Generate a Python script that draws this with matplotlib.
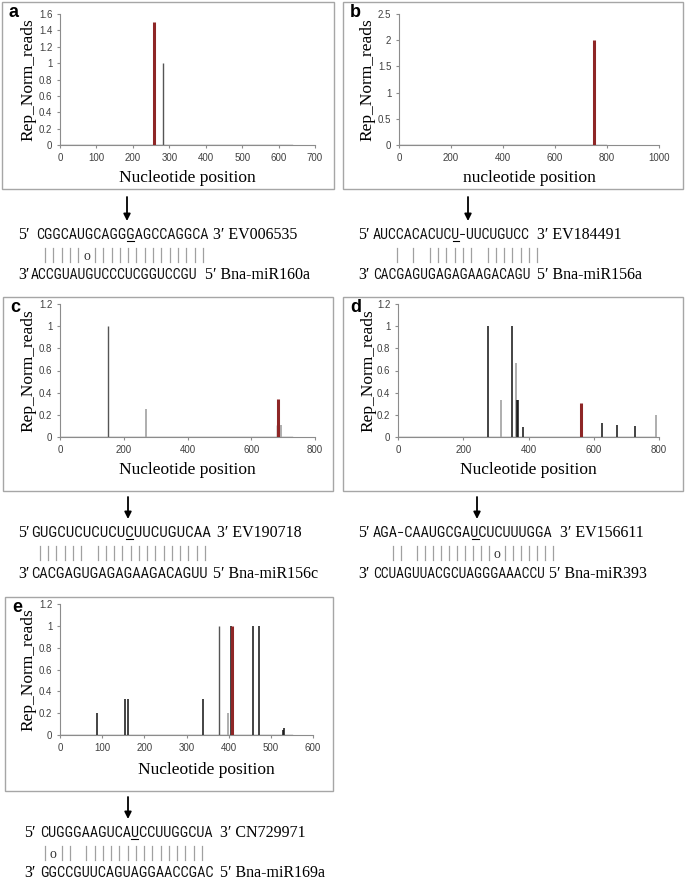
import matplotlib
matplotlib.use('Agg')
import matplotlib.pyplot as plt
from matplotlib.ticker import MultipleLocator, FuncFormatter
from matplotlib.patches import Rectangle

plt.rcParams['font.family'] = ['Liberation Sans', 'DejaVu Sans']
SERIF = ['Liberation Serif', 'DejaVu Serif']
NARROW = ['Noto Serif Condensed', 'Noto Sans Condensed', 'Liberation Sans Narrow',
          'Roboto Condensed', 'Liberation Serif', 'DejaVu Serif']

# degradome reads along each transcript (nt position, Rep_Norm_reads)
a_pos = [258, 282]
a_val = [1.5, 1.0]
a_kind = ['red', 'dark']
a_len = 636

b_pos = [750]
b_val = [2.0]
b_kind = ['red']
b_len = 798

c_pos = [152, 269, 680, 683, 694]
c_val = [1.0, 0.25, 0.11, 0.34, 0.11]
c_kind = ['dark', 'light', 'dark', 'red', 'light']
c_len = 727

d_pos = [275, 317, 349, 362, 364, 367, 384, 561, 626, 671, 727, 792]
d_val = [1.0, 0.33, 1.0, 0.67, 0.33, 0.33, 0.09, 0.31, 0.13, 0.11, 0.10, 0.20]
d_kind = ['black', 'light', 'black', 'light', 'black', 'black', 'black',
          'red', 'black', 'black', 'black', 'light']
d_len = 788

e_pos = [88, 154, 161, 340, 377, 398, 405, 408, 457, 473, 528, 531]
e_val = [0.2, 0.33, 0.33, 0.33, 1.0, 0.2, 1.0, 1.0, 1.0, 1.0, 0.05, 0.06]
e_kind = ['black', 'black', 'black', 'black', 'dark', 'light', 'black',
          'red', 'black', 'black', 'black', 'black']
e_len = 551

# target / miRNA pairing
a_target, a_mirna = 'CGGCAUGCAGGGAGCCAGGCA', 'ACCGUAUGUCCCUCGGUCCGU'
a_pairs = '|||||o||||||||||||||'
b_target, b_mirna = 'AUCCACACUCU\u2212UUCUGUCC', 'CACGAGUGAGAGAAGACAGU'
b_pairs = '| | |||||| |||||||'
c_target, c_mirna = 'GUGCUCUCUCUCUUCUGUCAA', 'CACGAGUGAGAGAAGACAGUU'
c_pairs = '|||||| ||||||||||||||'
d_target, d_mirna = 'AGA\u2212CAAUGCGAUCUCUUUGGA', 'CCUAGUUACGCUAGGGAAACCU'
d_pairs = '|| ||||||||||o|||||||'
e_target, e_mirna = 'CUGGGAAGUCAUCCUUGGCUA', 'GGCCGUUCAGUAGGAACCGAC'
e_pairs = '|o|| |||||||||||||||'

STYLE = {'red': ('#8e2626', 2.2), 'dark': ('#555555', 1.0),
         'light': ('#a8a8a8', 1.3), 'black': ('#111111', 1.1)}

W, H = 685, 881
fig = plt.figure(figsize=(W / 100, H / 100), dpi=100)
ov = fig.add_axes([0, 0, 1, 1])
ov.set_xlim(0, W)
ov.set_ylim(H, 0)
ov.axis('off')
rend = fig.canvas.get_renderer()


def px_axes(x0, y0, x1, y1):
    return fig.add_axes([x0 / W, 1 - y1 / H, (x1 - x0) / W, (y1 - y0) / H])


def chart(box, frame, letter, pos, val, kind, length, xmax, xstep, ymax, ystep,
          xlabel, xlab=(0.5, -0.25), ylab_x=-0.125):
    fx0, fy0, fx1, fy1 = frame
    ov.add_patch(Rectangle((fx0, fy0), fx1 - fx0, fy1 - fy0, fill=False,
                           edgecolor='#a6a6a6', lw=1.0))
    ov.text(fx0 + 7, fy0 + 15, letter, fontsize=13, fontweight='bold', va='baseline')
    ax = px_axes(*box)
    ax.patch.set_alpha(0)
    ax.plot([0, length], [0, 0], color='#707070', lw=1.0, zorder=2)
    for p, v, k in zip(pos, val, kind):
        color, lw = STYLE[k]
        ax.vlines(p, 0, v, colors=color, lw=lw, zorder=3 if k == 'red' else 2)
    ax.set_xlim(0, xmax)
    ax.set_ylim(0, ymax)
    ax.xaxis.set_major_locator(MultipleLocator(xstep))
    ax.yaxis.set_major_locator(MultipleLocator(ystep))
    ax.yaxis.set_major_formatter(FuncFormatter(lambda v, _: f'{v:g}'))
    for s in ['top', 'right']:
        ax.spines[s].set_visible(False)
    for s in ['left', 'bottom']:
        ax.spines[s].set_color('#8c8c8c')
        ax.spines[s].set_linewidth(0.8)
    ax.tick_params(direction='out', length=2.5, width=0.8, color='#8c8c8c',
                   labelsize=7, labelcolor='#404040', pad=3)
    ax.set_ylabel('Rep_Norm_reads', family=SERIF, fontsize=12.5, va='center')
    ax.yaxis.set_label_coords(ylab_x, 0.5)
    ax.set_xlabel(xlabel, family=SERIF, fontsize=12.5, va='center')
    ax.xaxis.set_label_coords(*xlab)
    return ax


def width(s, fs, fam, stretch='normal'):
    t = ov.text(0, 0, s, fontsize=fs, family=fam, fontstretch=stretch)
    w = t.get_window_extent(rend).width
    t.remove()
    return w


def seq(x0, x1, y, s, ul=None):
    fs = 10 * (x1 - x0) / width(s, 10, NARROW, 'condensed')
    fs = max(fs, 9.3)
    ov.text(x0, y, s, fontsize=fs, family=NARROW, fontstretch='condensed',
            va='baseline', color='#111111')
    if ul is not None:
        u0 = x0 + width(s[:ul], fs, NARROW, 'condensed')
        u1 = x0 + width(s[:ul + 1], fs, NARROW, 'condensed')
        ov.plot([u0 + 0.5, u1 - 0.5], [y + 2, y + 2], color='k', lw=0.8)
    return x0 + width(s, fs, NARROW, 'condensed')


def alignment(ys, xp, target, tspan, tlab, tlab_x, pairs, pspan,
              mirna, mspan, mlab, mlab_x, ul, arrow):
    yt, yb, ym = ys
    ax_, a0, a1 = arrow
    ov.annotate('', xy=(ax_, a1), xytext=(ax_, a0),
                arrowprops=dict(arrowstyle='-|>', color='k', lw=1.3,
                                mutation_scale=10, shrinkA=0, shrinkB=0))
    ov.text(xp, yt, '5\u2032', fontsize=11.5, family=SERIF, va='baseline')
    end = seq(tspan[0], tspan[1], yt, target, ul)
    ov.text(max(tlab_x, end + 5), yt, tlab, fontsize=11.5, family=SERIF, va='baseline')
    pitch = (pspan[1] - pspan[0]) / (len(pairs) - 1)
    for i, ch in enumerate(pairs):
        x = pspan[0] + i * pitch
        if ch == '|':
            ov.plot([x, x], [yb - 7, yb + 7], color='#a0a0a0', lw=0.9)
        elif ch == 'o':
            ov.text(x, yb + 1, 'o', fontsize=10, family=SERIF, ha='center',
                    va='center', color='#333333')
    ov.text(xp, ym, '3\u2032', fontsize=11.5, family=SERIF, va='baseline')
    end = seq(mspan[0], mspan[1], ym, mirna)
    ov.text(max(mlab_x, end + 4), ym, mlab, fontsize=11.5, family=SERIF, va='baseline')


chart((60, 14, 315, 145), (2, 2, 334, 189), 'a', a_pos, a_val, a_kind, a_len,
      700, 100, 1.6, 0.2, 'Nucleotide position', (0.5, -0.252), -0.125)
chart((399, 14, 659, 145), (343, 2, 683, 189), 'b', b_pos, b_val, b_kind, b_len,
      1000, 200, 2.5, 0.5, 'nucleotide position', (0.5, -0.252), -0.12)
chart((60, 304, 315, 437), (3, 297, 333, 491), 'c', c_pos, c_val, c_kind, c_len,
      800, 200, 1.2, 0.2, 'Nucleotide position', (0.5, -0.25), -0.125)
chart((398, 304, 659, 437), (343, 297, 683, 491), 'd', d_pos, d_val, d_kind, d_len,
      800, 200, 1.2, 0.2, 'Nucleotide position', (0.5, -0.25), -0.115)
chart((60, 604, 313, 735), (5, 597, 333, 791), 'e', e_pos, e_val, e_kind, e_len,
      600, 100, 1.2, 0.2, 'Nucleotide position', (0.58, -0.267), -0.125)

alignment((239, 255, 279), 18, a_target, (36, 208), '3\u2032 EV006535', 213,
          a_pairs, (45, 203), a_mirna, (31, 198), '5\u2032 Bna-miR160a', 205,
          11, (127, 197, 221))
alignment((239, 255, 279), 358, b_target, (373, 530), '3\u2032 EV184491', 537,
          b_pairs, (397, 537), b_mirna, (373, 530), '5\u2032 Bna-miR156a', 537,
          10, (468, 197, 221))
alignment((537, 553, 578), 18, c_target, (31, 210), '3\u2032 EV190718', 217,
          c_pairs, (40, 205), c_mirna, (31, 208), '5\u2032 Bna-miR156c', 213,
          11, (128, 497, 519))
alignment((537, 553, 578), 358, d_target, (373, 553), '3\u2032 EV156611', 560,
          d_pairs, (393, 553), d_mirna, (373, 545), '5\u2032 Bna-miR393', 545,
          12, (477, 497, 519))
alignment((837, 853, 877), 24, e_target, (40, 213), '3\u2032 CN729971', 220,
          e_pairs, (45, 202), e_mirna, (40, 213), '5\u2032 Bna-miR169a', 220,
          11, (128, 797, 819))

fig.savefig('out.png', dpi=100)
